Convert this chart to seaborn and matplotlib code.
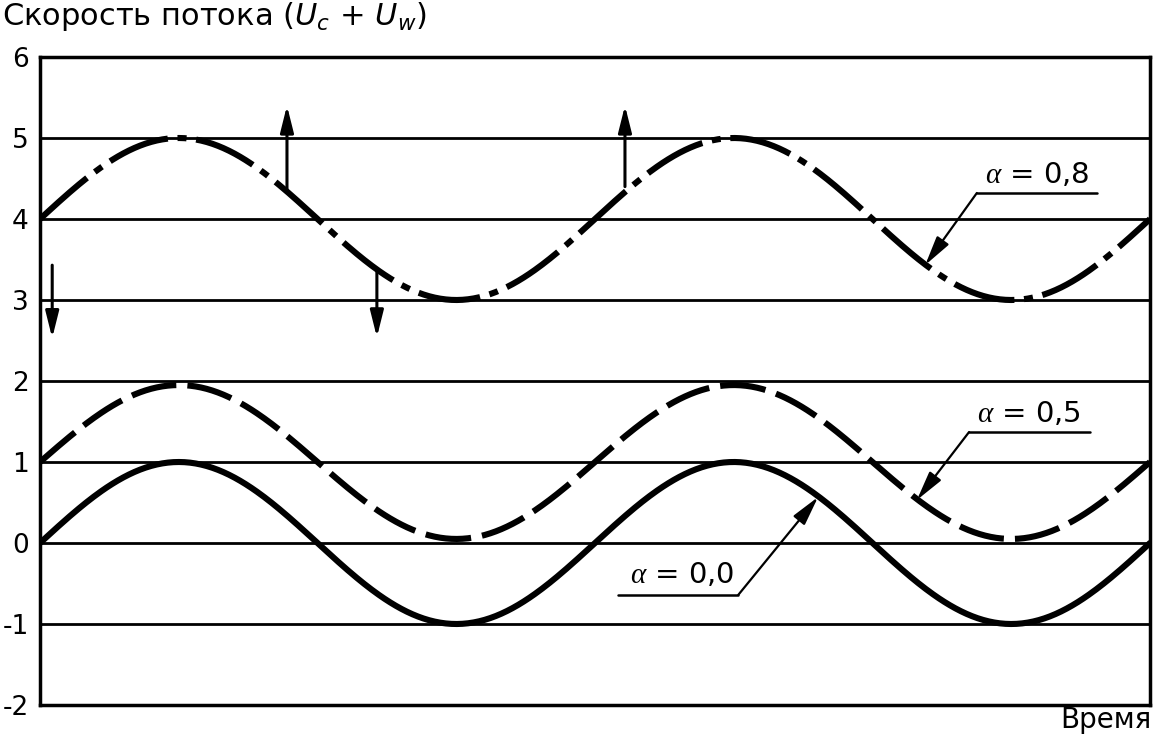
import matplotlib
matplotlib.use("Agg")
import matplotlib.pyplot as plt
import numpy as np
import pandas as pd
import seaborn as sns

# Время в периодах волны (на графике два периода)
T_START, T_END = 0.0, 2.0
N_POINTS = 600

# Параметры кривых: метка, смещение (U_c), амплитуда (U_w)
CURVE_LABELS = ["α = 0,0", "α = 0,5", "α = 0,8"]
CURVE_OFFSETS = [0.0, 1.0, 4.0]
CURVE_AMPLITUDES = [1.0, 0.95, 1.0]

# Вертикальные стрелки у кривой α = 0,8
ARROW_T = [0.022, 0.445, 0.607, 1.054]
ARROW_FROM = [3.43, 4.33, 3.35, 4.40]
ARROW_TO = [2.53, 5.40, 2.54, 5.40]

Y_TICKS = [-2, -1, 0, 1, 2, 3, 4, 5, 6]

sns.set_style("white")
plt.rcParams["font.family"] = ["DejaVu Sans"]
plt.rcParams["text.color"] = "black"
plt.rcParams["ytick.color"] = "black"
plt.rcParams["ytick.labelcolor"] = "black"
plt.rcParams["axes.unicode_minus"] = False
plt.rcParams["lines.scale_dashes"] = False
plt.rcParams["mathtext.fontset"] = "custom"
plt.rcParams["mathtext.rm"] = "DejaVu Sans"
plt.rcParams["mathtext.it"] = "Liberation Serif:italic"
plt.rcParams["mathtext.sf"] = "DejaVu Sans:italic"

t = np.linspace(T_START, T_END, N_POINTS)
curves = {}
for label, off, amp in zip(CURVE_LABELS, CURVE_OFFSETS, CURVE_AMPLITUDES):
    curves[label] = off + amp * np.sin(2 * np.pi * t)

fig = plt.figure(figsize=(11.54, 7.48), dpi=100)
ax = fig.add_axes([40 / 1154, 1 - 705 / 748, 1110 / 1154, 648 / 748])

styles = {
    "α = 0,0": "-",
    "α = 0,5": (0, (33, 8)),
    "α = 0,8": (0, (45, 7, 6.5, 7)),
}
for label in CURVE_LABELS:
    sns.lineplot(x=t, y=curves[label], ax=ax, color="black", lw=4.4,
                 linestyle=styles[label], legend=False, zorder=3)

# Стрелки
for xa, y0, y1 in zip(ARROW_T, ARROW_FROM, ARROW_TO):
    ax.annotate("", xy=(xa, y1), xytext=(xa, y0),
                arrowprops=dict(arrowstyle="-|>,head_length=0.8,head_width=0.2",
                                mutation_scale=20, lw=2.2, color="black",
                                shrinkA=0, shrinkB=0), zorder=4)

# Подписи кривых с выносками
callouts = [
    # текст, центр текста (t, y), линия подчеркивания (t0, t1, y), острие
    (r"$\alpha$ = 0,8", (1.797, 4.444), (1.688, 1.905, 4.321), (1.688, 1.595, 3.432)),
    (r"$\alpha$ = 0,5", (1.782, 1.494), (1.674, 1.892, 1.370), (1.674, 1.580, 0.531)),
    (r"$\alpha$ = 0,0", (1.157, -0.494), (1.041, 1.258, -0.642), (1.258, 1.402, 0.568)),
]
for text, (tx, ty), (u0, u1, uy), (sx, ex, ey) in callouts:
    ax.text(tx, ty, text, ha="center", va="baseline", fontsize=21,
            color="black", zorder=5)
    ax.plot([u0, u1], [uy, uy], color="black", lw=1.8, zorder=5)
    ax.annotate("", xy=(ex, ey), xytext=(sx, uy),
                arrowprops=dict(arrowstyle="-|>,head_length=0.9,head_width=0.22",
                                mutation_scale=20, lw=1.6, color="black",
                                shrinkA=0, shrinkB=0), zorder=5)

ax.set_xlim(T_START, T_END)
ax.set_ylim(-2, 6)
ax.set_yticks(Y_TICKS)
ax.set_xticks([])
ax.tick_params(axis="y", length=0, pad=8, labelsize=19, labelcolor="black")
ax.grid(axis="y", color="black", lw=2)
ax.set_axisbelow(True)
for sp in ax.spines.values():
    sp.set_color("black")
    sp.set_linewidth(2.5)

fig.text(0.0017, 1 - 25 / 748,
         r"Скорость потока ($\mathsf{U_c}$ + $\mathsf{U_w}$)",
         ha="left", va="baseline", fontsize=22, color="black")
fig.text(0.998, 1 - 728 / 748, "Время", ha="right", va="baseline",
         fontsize=20, color="black")

fig.savefig("out.png", dpi=100)
